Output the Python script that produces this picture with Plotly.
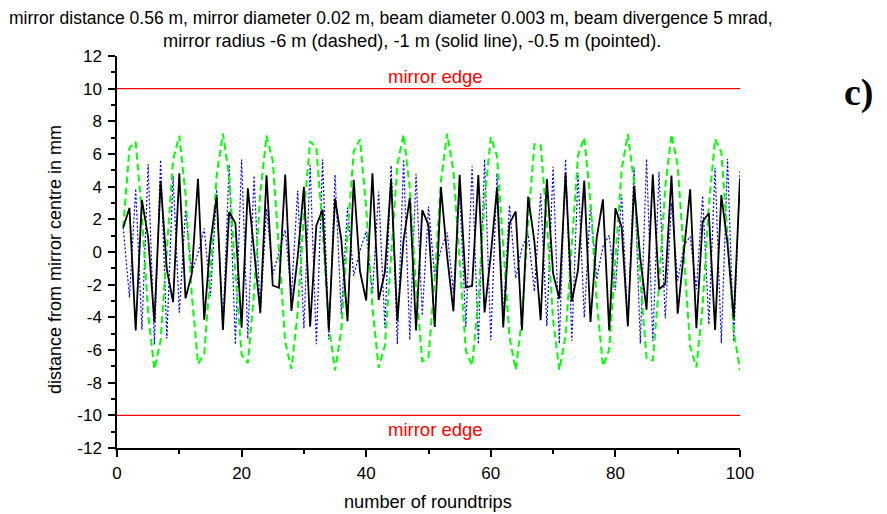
import plotly.graph_objects as go

roundtrips = list(range(1, 101))

# mirror radius -1 m (solid line)
r_1m = [1.50, 2.70, -4.81, 3.19, 0.90, -4.29, 4.36, -1.06, -3.07, 4.82,
        -2.84, -1.34, 4.48, -4.15, 0.61, 3.41, -4.78, 2.45, 1.78, -4.63,
        3.90, -0.15, -3.72, 4.70, -2.05, -2.19, 4.74, -3.61, -0.31, 3.99,
        -4.58, 1.62, 2.59, -4.80, 3.29, 0.77, -4.23, 4.42, -1.18, -2.97,
        4.82, -2.94, -1.22, 4.43, -4.22, 0.73, 3.31, -4.80, 2.56, 1.65,
        -4.59, 3.97, -0.28, -3.63, 4.73, -2.16, -2.08, 4.71, -3.70, -0.18,
        3.92, -4.62, 1.75, 2.48, -4.79, 3.39, 0.64, -4.17, 4.47, -1.31,
        -2.86, 4.82, -3.04, -1.09, 4.38, -4.28, 0.86, 3.22, -4.81, 2.67,
        1.53, -4.55, 4.05, -0.41, -3.54, 4.75, -2.28, -1.96, 4.68, -3.78,
        -0.05, 3.84, -4.66, 1.87, 2.37, -4.77, 3.48, 0.51, -4.10, 4.52]

# mirror radius -6 m (dashed)
r_6m = [1.50, 6.39, 6.73, 2.28, -3.79, -7.17, -5.44, 0.16, 5.65, 7.12,
        3.52, -2.58, -6.85, -6.24, -1.19, 4.71, 7.25, 4.63, -1.28, -6.28,
        -6.81, -2.49, 3.60, 7.13, 5.59, 0.06, -5.51, -7.15, -3.71, 2.38,
        6.77, 6.35, 1.40, -4.54, -7.25, -4.80, 1.07, 6.17, 6.89, 2.70,
        -3.41, -7.09, -5.72, -0.28, 5.36, 7.19, 3.90, -2.17, -6.69, -6.45,
        -1.62, 4.36, 7.24, 4.96, -0.85, -6.05, -6.95, -2.90, 3.21, 7.04,
        5.86, 0.50, -5.21, -7.21, -4.08, 1.95, 6.60, 6.55, 1.83, -4.18,
        -7.22, -5.12, 0.63, 5.93, 7.01, 3.10, -3.01, -6.99, -5.98, -0.72,
        5.05, 7.23, 4.26, -1.74, -6.50, -6.64, -2.05, 4.00, 7.20, 5.28,
        -0.41, -5.80, -7.06, -3.30, 2.81, 6.92, 6.11, 0.94, -4.89, -7.24]

# mirror radius -0.5 m (pointed)
r_05m = [1.50, -2.77, 3.88, -4.76, 5.37, -5.67, 5.64, -5.29, 4.64, -3.71,
         2.58, -1.29, -0.07, 1.43, -2.70, 3.82, -4.72, 5.34, -5.66, 5.66,
         -5.32, 4.68, -3.77, 2.65, -1.37, 0.01, 1.35, -2.63, 3.76, -4.67,
         5.32, -5.65, 5.66, -5.35, 4.73, -3.83, 2.72, -1.45, 0.09, 1.27,
         -2.56, 3.70, -4.63, 5.29, -5.64, 5.67, -5.38, 4.77, -3.89, 2.79,
         -1.52, 0.17, 1.19, -2.49, 3.64, -4.58, 5.25, -5.63, 5.68, -5.40,
         4.82, -3.95, 2.86, -1.60, 0.25, 1.11, -2.41, 3.57, -4.53, 5.22,
         -5.62, 5.69, -5.43, 4.86, -4.01, 2.93, -1.68, 0.33, 1.03, -2.34,
         3.51, -4.48, 5.19, -5.60, 5.69, -5.45, 4.90, -4.06, 3.00, -1.75,
         0.41, 0.95, -2.27, 3.45, -4.43, 5.16, -5.59, 5.70, -5.48, 4.94]

edge_x = [0, 100]
mirror_edge = 10

x_ticks = [0, 20, 40, 60, 80, 100]
y_ticks = [-12, -10, -8, -6, -4, -2, 0, 2, 4, 6, 8, 10, 12]
y_ticklabels = [str(v) for v in y_ticks]
x_ticklabels = [str(v) for v in x_ticks]

FONT = "Liberation Sans, Arial, sans-serif"

# page offset caused by the default body margin of the html page
OFF = 8
W, H = 887 - OFF, 514 - OFF
L, R, T, B = 117 - OFF, 147, 56 - OFF, 66


def px(x, y):
    """page pixel position -> paper coordinates"""
    return ((x - OFF - L) / (W - L - R), 1 - (y - OFF - T) / (H - T - B))


fig = go.Figure()
fig.add_trace(go.Scatter(x=roundtrips, y=r_05m, mode="lines",
                         line=dict(color="#0000ff", width=1.2, dash="2px,2px")))
fig.add_trace(go.Scatter(x=roundtrips, y=r_6m, mode="lines",
                         line=dict(color="#00ff00", width=2, dash="7px,4px")))
fig.add_trace(go.Scatter(x=roundtrips, y=r_1m, mode="lines",
                         line=dict(color="#000000", width=1.8)))
for s in (1, -1):
    fig.add_trace(go.Scatter(x=edge_x, y=[s * mirror_edge] * 2, mode="lines",
                             line=dict(color="#ff0000", width=1.2)))

for yy in (10.72, -10.85):
    fig.add_annotation(x=51.1, y=yy, xref="x", yref="y", text="mirror edge",
                       xanchor="center", yanchor="middle",
                       showarrow=False, font=dict(color="#ff0000", size=18.5, family=FONT))


def ann(x, y, text, size, **kw):
    ax, ay = px(x, y)
    fig.add_annotation(x=ax, y=ay, xref="paper", yref="paper", text=text,
                       xanchor="center", yanchor="middle",
                       showarrow=False, font=dict(size=size, family=kw.pop("family", FONT), color="#000"), **kw)


ann(391, 18, "mirror distance 0.56 m, mirror diameter 0.02 m, beam diameter 0.003 m, beam divergence 5 mrad,", 17.5)
ann(412, 41, "mirror radius -6 m (dashed), -1 m (solid line), -0.5 m (pointed).", 18.2)
ann(859, 93, "<b>c)</b>", 38, family="Liberation Serif, Times New Roman, serif")
ann(55, 260, "distance from mirror centre in mm", 18, textangle=-90)
ann(428, 502, "number of roundtrips", 18.2)

fig.update_layout(
    width=W, height=H,
    margin=dict(l=L, r=R, t=T, b=B),
    paper_bgcolor="white", plot_bgcolor="white",
    showlegend=False,
    font=dict(family=FONT, size=17, color="#000"),
)
fig.update_xaxes(range=[0, 100], tickvals=x_ticks, ticktext=x_ticklabels,
                 showgrid=False, zeroline=False, showline=True, linecolor="#000", linewidth=1.5,
                 ticks="outside", ticklen=7, tickwidth=1.5, tickcolor="#000", ticklabelstandoff=2,
                 minor=dict(tickvals=[10, 30, 50, 70, 90], ticks="outside", ticklen=4, tickwidth=1.5, tickcolor="#000"),
                 tickfont=dict(size=17, family=FONT))
fig.update_yaxes(range=[-12, 12], tickvals=y_ticks, ticktext=y_ticklabels,
                 showgrid=False, zeroline=False, showline=True, linecolor="#000", linewidth=1.5,
                 ticks="outside", ticklen=7, tickwidth=1.5, tickcolor="#000", ticklabelstandoff=3,
                 minor=dict(tickvals=list(range(-11, 12, 2)), ticks="outside", ticklen=4, tickwidth=1.5, tickcolor="#000"),
                 tickfont=dict(size=17, family=FONT))

fig.write_html("out.html")
